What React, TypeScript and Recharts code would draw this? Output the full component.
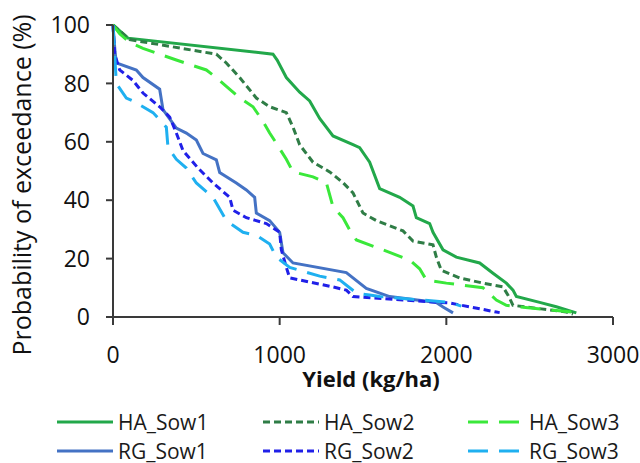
import React from "react";
import { LineChart, Line, XAxis, YAxis, Legend } from "recharts";

type Pt = { x: number; y: number };
const toPts = (a: number[][]): Pt[] => a.map(([x, y]) => ({ x, y }));

const seriesNames = ["HA_Sow1", "HA_Sow2", "HA_Sow3", "RG_Sow1", "RG_Sow2", "RG_Sow3"];
const xTicks = [0, 1000, 2000, 3000];
const yTicks = [0, 20, 40, 60, 80, 100];

const haSow1 = [
  [0, 100], [90, 95.5], [960, 90], [985, 88], [1040, 82], [1120, 77], [1180, 74], [1240, 68],
  [1320, 62], [1440, 59], [1480, 58], [1540, 53], [1600, 44], [1720, 41], [1800, 38], [1820, 34],
  [1900, 32], [1920, 29], [1980, 23], [2060, 20.5], [2200, 18.5], [2280, 15], [2360, 11.6],
  [2400, 9.2], [2420, 7], [2560, 5], [2660, 3.5], [2780, 1.4],
];
const haSow2 = [
  [0, 100], [100, 95], [620, 90], [680, 87], [760, 82], [860, 75], [940, 72], [1040, 70],
  [1080, 65], [1120, 59], [1200, 53], [1300, 49.7], [1380, 46], [1440, 42.5], [1500, 35.6],
  [1580, 33], [1740, 29.5], [1800, 26], [1920, 24.7], [1940, 20.5], [1970, 16], [2080, 13.4],
  [2220, 11.6], [2340, 10.3], [2370, 7.5], [2400, 4], [2720, 1.7], [2760, 1],
];
const haSow3 = [
  [0, 100], [40, 97], [100, 94], [180, 92], [380, 88], [560, 84.6], [620, 82], [680, 79],
  [760, 75], [840, 72], [900, 67], [940, 63], [980, 59.5], [1040, 54], [1080, 49.7], [1200, 48],
  [1280, 46], [1320, 37.7], [1380, 34], [1420, 29.8], [1460, 26.4], [1620, 23], [1780, 19.5],
  [1840, 16.5], [1880, 12.7], [2000, 11.6], [2220, 10], [2300, 5.8], [2360, 4], [2520, 3],
  [2800, 1.4],
];
const rgSow1 = [
  [0, 100], [12, 91], [20, 87], [140, 84.6], [180, 82], [280, 78], [300, 71], [380, 64.7],
  [440, 63], [500, 60.6], [540, 56], [620, 53.8], [640, 49.5], [740, 45.9], [800, 43.5],
  [850, 41], [860, 35.6], [940, 33], [1000, 29], [1020, 22], [1080, 18.5], [1400, 15.2],
  [1520, 9.8], [1660, 7], [1940, 5], [1980, 3.4], [2040, 1.4],
];
const rgSow2 = [
  [0, 100], [10, 90], [40, 84.6], [120, 81], [180, 76.7], [280, 72], [340, 68.5], [380, 63],
  [420, 57], [510, 51], [600, 45.9], [700, 41], [720, 36.6], [800, 34], [920, 32], [1000, 29],
  [1010, 23], [1040, 17], [1060, 13.4], [1320, 10.3], [1400, 9.2], [1440, 7], [1740, 5.8],
  [2020, 4.8], [2300, 1.7], [2320, 1.5],
];
const rgSow3 = [
  [0, 100], [10, 90], [20, 80], [80, 75], [120, 74], [240, 70], [320, 65], [330, 58],
  [380, 54], [440, 51], [500, 45.9], [600, 41], [680, 33], [780, 29], [860, 28], [940, 25],
  [980, 20.5], [1060, 17], [1240, 14], [1360, 12.7], [1460, 8.2], [1540, 7.5], [1600, 7],
  [2020, 5], [2090, 3.7],
];

const seriesData = [haSow1, haSow2, haSow3, rgSow1, rgSow2, rgSow3];
const colors = ["#22a84a", "#2f7d46", "#3ae83a", "#4472c4", "#2020e8", "#1fb0f0"];
const dashes = ["", "7 4", "20 11", "", "7 4", "20 11"];

const FONT = "'Open Sans', sans-serif";

const LegendContent = () => {
  const colX = [57, 263, 468];
  const rowY = [22, 51];
  return (
    <div style={{ position: "relative", width: 640, height: 63 }}>
      {seriesNames.map((name, i) => {
        const col = i % 3;
        const row = Math.floor(i / 3);
        return (
          <svg
            key={name}
            width={170}
            height={30}
            style={{ position: "absolute", left: colX[col], top: rowY[row] - 15 }}
          >
            <line
              x1={0}
              x2={56}
              y1={15}
              y2={15}
              stroke={colors[i]}
              strokeWidth={3}
              strokeDasharray={dashes[i] || undefined}
            />
            <text x={61} y={22.5} fontSize={21} fontFamily={FONT} fill="#1a1a1a">
              {name}
            </text>
          </svg>
        );
      })}
    </div>
  );
};

export default function App() {
  return (
    <div style={{ width: 640, height: 463 }}>
      <style>{`body{margin:0}`}</style>
      <LineChart
        width={640}
        height={463}
        margin={{ top: 25, right: 27, left: 0, bottom: 66 }}
      >
        <XAxis
          type="number"
          dataKey="x"
          domain={[0, 3000]}
          ticks={xTicks}
          allowDuplicatedCategory={false}
          height={80}
          stroke="#3a3a3a"
          strokeWidth={2}
          tickSize={8}
          tickMargin={22}
          tick={{ fontSize: 23, fill: "#111", fontFamily: FONT }}
          label={(props: any) => (
            <text
              x={371}
              y={387}
              textAnchor="middle"
              fontSize={22}
              fontWeight="bold"
              fontFamily={FONT}
              fill="#111"
            >
              Yield (kg/ha)
            </text>
          )}
        />
        <YAxis
          type="number"
          dataKey="y"
          domain={[0, 100]}
          ticks={yTicks}
          width={113}
          stroke="#3a3a3a"
          strokeWidth={2}
          tickSize={7}
          tickMargin={16}
          tick={{ fontSize: 23, fill: "#111", fontFamily: FONT }}
          label={(props: any) => (
            <text
              x={31}
              y={185}
              transform="rotate(-90, 31, 185)"
              textAnchor="middle"
              fontSize={25}
              fontFamily={FONT}
              fill="#111"
            >
              Probability of exceedance (%)
            </text>
          )}
        />
        {seriesNames.map((name, i) => (
          <Line
            key={name}
            name={name}
            data={toPts(seriesData[i])}
            dataKey="y"
            type="linear"
            stroke={colors[i]}
            strokeWidth={3}
            strokeDasharray={dashes[i] || undefined}
            dot={false}
            activeDot={false}
            isAnimationActive={false}
          />
        ))}
        <Legend
          layout="horizontal"
          verticalAlign="middle"
          align="center"
          content={() => <LegendContent />}
          wrapperStyle={{ top: 400, left: 0, width: 640, height: 63 }}
        />
      </LineChart>
    </div>
  );
}
